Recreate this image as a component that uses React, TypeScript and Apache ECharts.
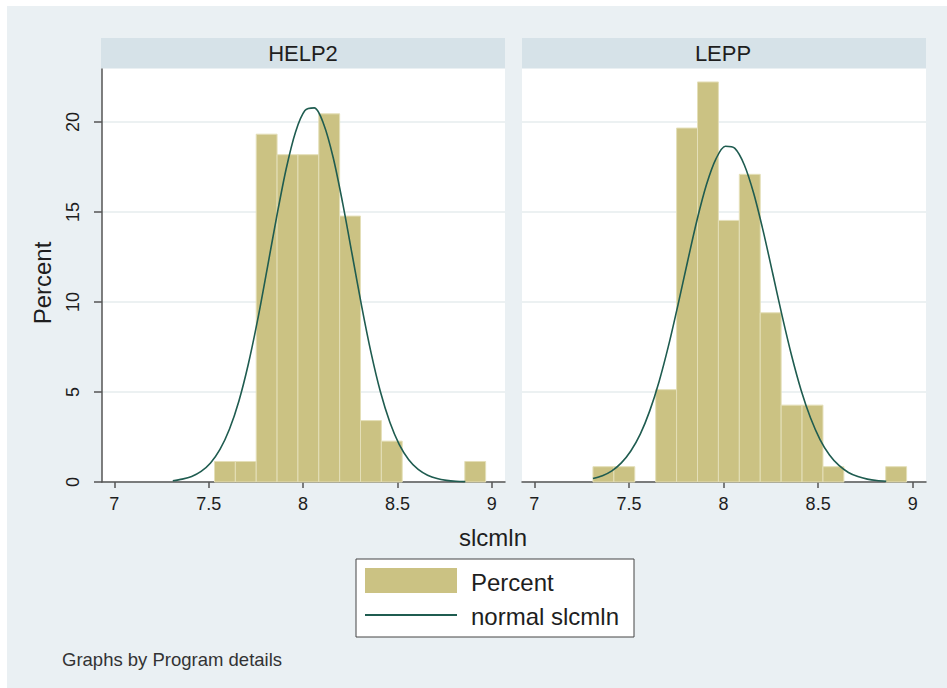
import React, { useEffect, useRef } from "react";
import * as echarts from "echarts";

// Shared histogram bin edges (slcmln)
const binEdges = [7.31, 7.4205, 7.531, 7.6415, 7.752, 7.8625, 7.973, 8.0835, 8.194, 8.3045, 8.415, 8.5255, 8.636, 8.7465, 8.857, 8.9675];
// Percent per bin
const help2Pct = [0, 0, 1.14, 1.14, 19.32, 18.18, 18.18, 20.45, 14.77, 3.41, 2.27, 0, 0, 0, 1.14];
const leppPct = [0.85, 0.85, 0, 5.13, 19.66, 22.22, 14.53, 17.09, 9.4, 4.27, 4.27, 0.85, 0, 0, 0.85];

// Normal density overlay
const curveX = [7.31, 7.36, 7.41, 7.46, 7.51, 7.56, 7.61, 7.66, 7.71, 7.76, 7.81, 7.86, 7.91, 7.96, 8.01, 8.06, 8.11, 8.16, 8.21, 8.26, 8.31, 8.36, 8.41, 8.46, 8.51, 8.56, 8.61, 8.66, 8.71, 8.76, 8.81, 8.86];
const help2Curve = [0.07, 0.16, 0.31, 0.59, 1.06, 1.81, 2.93, 4.49, 6.54, 9.03, 11.84, 14.71, 17.36, 19.43, 20.63, 20.78, 19.86, 18.01, 15.49, 12.65, 9.8, 7.2, 5.01, 3.32, 2.08, 1.24, 0.7, 0.38, 0.19, 0.09, 0.04, 0.02];
const leppCurve = [0.19, 0.35, 0.62, 1.06, 1.72, 2.66, 3.95, 5.6, 7.6, 9.87, 12.25, 14.55, 16.52, 17.95, 18.65, 18.53, 17.61, 16.01, 13.92, 11.58, 9.21, 7.01, 5.1, 3.55, 2.36, 1.5, 0.92, 0.53, 0.3, 0.16, 0.08, 0.04];

const panels = ["HELP2", "LEPP"];
const xTicks = [7, 7.5, 8, 8.5, 9];
const yTicks = [0, 5, 10, 15, 20];

const FONT = "'Liberation Sans', Arial, Helvetica, sans-serif";
const BAR = "#cbc283";
const BAR_EDGE = "#e4dfb8";
const LINE = "#1f5c50";
const AXIS = "#555555";
const TEXT = "#1e1e1e";

function barData(pct: number[]) {
  return pct.map((v, i) => [binEdges[i], binEdges[i + 1], v]);
}
function curveData(ys: number[]) {
  return curveX.map((x, i) => [x, ys[i]]);
}

const renderBar = (params: any, api: any) => {
  const v = api.value(2);
  if (!v) return { type: "group", children: [] };
  const p0 = api.coord([api.value(0), v]);
  const p1 = api.coord([api.value(1), 0]);
  return {
    type: "rect",
    shape: { x: p0[0], y: p0[1], width: p1[0] - p0[0], height: p1[1] - p0[1] },
    style: { fill: BAR, stroke: BAR_EDGE, lineWidth: 1 },
  };
};

export default function App() {
  const ref = useRef<HTMLDivElement>(null);
  useEffect(() => {
    if (!ref.current) return;
    const chart = echarts.init(ref.current, undefined, { renderer: "svg" });
    const grids = [
      { left: 102, top: 69, width: 403, height: 413 },
      { left: 522, top: 69, width: 404, height: 413 },
    ].map((g) => ({ ...g, show: true, backgroundColor: "#ffffff", borderWidth: 0, containLabel: false }));

    const xAxes = [0, 1].map((i) => ({
      type: "value",
      gridIndex: i,
      min: 6.935,
      max: 9.07,
      axisLine: { show: true, onZero: false, lineStyle: { color: AXIS, width: 1.5 } },
      axisTick: { show: true, length: 6, customValues: xTicks, lineStyle: { color: AXIS, width: 1.5 } },
      axisLabel: {
        show: true,
        customValues: xTicks,
        margin: 13,
        fontSize: 18,
        color: TEXT,
        fontFamily: FONT,
        formatter: (v: number) => String(v),
      },
      splitLine: { show: false },
    }));

    const yAxes = [0, 1].map((i) => ({
      type: "value",
      gridIndex: i,
      min: 0,
      max: 22.94,
      axisLine: { show: i === 0, lineStyle: { color: AXIS, width: 1.5 } },
      axisTick: { show: i === 0, length: 8, customValues: yTicks, lineStyle: { color: AXIS, width: 1.5 } },
      axisLabel: {
        show: i === 0,
        customValues: yTicks,
        rotate: 90,
        margin: 20,
        fontSize: 18,
        color: TEXT,
        fontFamily: FONT,
      },
      splitLine: { show: true, lineStyle: { color: "#e6ecee", width: 1.5 } },
    }));

    const series: any[] = [];
    [help2Pct, leppPct].forEach((pct, i) => {
      series.push({
        type: "custom",
        name: "Percent",
        xAxisIndex: i,
        yAxisIndex: i,
        renderItem: renderBar,
        encode: { x: [0, 1], y: 2 },
        data: barData(pct),
        z: 2,
      });
    });
    [help2Curve, leppCurve].forEach((ys, i) => {
      series.push({
        type: "line",
        name: "normal slcmln",
        xAxisIndex: i,
        yAxisIndex: i,
        data: curveData(ys),
        smooth: 0.3,
        showSymbol: false,
        symbol: "none",
        lineStyle: { color: LINE, width: 1.6 },
        z: 3,
      });
    });

    const txt = (text: string, x: number, y: number, size: number, align = "center", extra: any = {}) => ({
      type: "text",
      x,
      y,
      style: { text, fontSize: size, fontFamily: FONT, fill: TEXT, align, verticalAlign: "middle" },
      ...extra,
    });

    const graphic: any[] = [
      { type: "rect", shape: { x: 0, y: 0, width: 947, height: 6 }, style: { fill: "#ffffff" } },
      { type: "rect", shape: { x: 0, y: 0, width: 7, height: 688 }, style: { fill: "#ffffff" } },
      { type: "rect", shape: { x: 101, y: 38, width: 404, height: 30 }, style: { fill: "#d6e2e8" } },
      { type: "rect", shape: { x: 522, y: 38, width: 404, height: 30 }, style: { fill: "#d6e2e8" } },
      txt(panels[0], 303, 53.5, 22),
      txt(panels[1], 723, 53.5, 22),
      txt("Percent", 42.5, 283, 24, "center", { rotation: Math.PI / 2 }),
      txt("slcmln", 493, 537, 24),
      {
        type: "rect",
        shape: { x: 356, y: 559, width: 278, height: 78 },
        style: { fill: "#ffffff", stroke: "#444444", lineWidth: 1 },
      },
      { type: "rect", shape: { x: 365, y: 568, width: 92, height: 25 }, style: { fill: BAR } },
      { type: "line", shape: { x1: 365, y1: 615, x2: 457, y2: 615 }, style: { stroke: LINE, lineWidth: 2 } },
      txt("Percent", 471, 582, 24, "left"),
      txt("normal slcmln", 471, 616, 24, "left"),
      {
        type: "text",
        x: 62,
        y: 659,
        style: { text: "Graphs by Program details", fontSize: 18.5, fontFamily: FONT, fill: "#333333", align: "left", verticalAlign: "middle" },
      },
    ];

    chart.setOption({
      animation: false,
      backgroundColor: "#eaf0f3",
      grid: grids,
      xAxis: xAxes,
      yAxis: yAxes,
      series,
      graphic,
    });
    return () => chart.dispose();
  }, []);
  return (
    <div
      ref={ref}
      style={{ position: "fixed", left: 0, top: 0, width: 947, height: 688 }}
    />
  );
}
